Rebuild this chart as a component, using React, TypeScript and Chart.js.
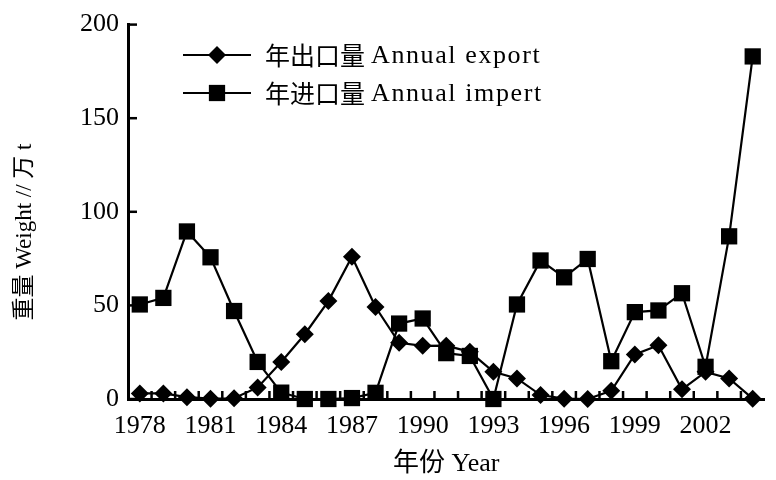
import React, { useEffect, useRef } from "react";
import { Chart, registerables } from "chart.js";

Chart.register(...registerables);

const years = [
  "1978", "1979", "1980", "1981", "1982", "1983", "1984", "1985", "1986",
  "1987", "1988", "1989", "1990", "1991", "1992", "1993", "1994", "1995",
  "1996", "1997", "1998", "1999", "2000", "2001", "2002", "2003", "2004",
];

const exportValues = [
  3, 3, 1, 0.2, 0.4, 6.2, 19.8, 34.6, 52.3,
  76, 49.1, 30, 28.4, 28.5, 25.2, 14.5, 11, 2.1,
  0.2, 0, 4.4, 23.8, 28.7, 5.2, 14.5, 11, 0.2,
];

const importValues = [
  50.5, 54, 89.5, 75.7, 47, 19.8, 3.4, 0, 0,
  0.5, 3.3, 40.3, 43, 24.5, 23, 0, 50.5, 74,
  65, 74.8, 20.2, 46.4, 47.3, 56.5, 17.2, 86.9, 183,
];

const seriesNamesZh = ["年出口量", "年进口量"];
const seriesNamesEn = ["Annual export", "Annual impert"];
const yTicks = [0, 50, 100, 150, 200];
const xTitle = "年份 Year";
const yTitle = "重量 Weight // 万 t";

const FONT = "'Liberation Serif', 'Noto Sans CJK SC', serif";

const decorPlugin = {
  id: "decor",
  afterDraw(chart: any) {
    const ctx = chart.ctx;
    const xs = chart.scales.x;
    const ys = chart.scales.y;
    const area = chart.chartArea;
    ctx.save();
    ctx.strokeStyle = "#000";
    ctx.lineWidth = 2.5;
    // inward x ticks at category boundaries
    const n = years.length;
    for (let i = 1; i < n; i++) {
      const x = (xs.getPixelForValue(i - 1) + xs.getPixelForValue(i)) / 2;
      ctx.beginPath();
      ctx.moveTo(x, area.bottom);
      ctx.lineTo(x, area.bottom - 8);
      ctx.stroke();
    }
    // inward y ticks
    for (const v of yTicks) {
      const y = ys.getPixelForValue(v);
      ctx.beginPath();
      ctx.moveTo(area.left, y);
      ctx.lineTo(area.left + 9, y);
      ctx.stroke();
    }
    // legend
    const rows = [55, 93];
    chart.data.datasets.forEach((ds: any, i: number) => {
      const y = rows[i];
      ctx.strokeStyle = "#000";
      ctx.lineWidth = 2.2;
      ctx.beginPath();
      ctx.moveTo(183, y);
      ctx.lineTo(251, y);
      ctx.stroke();
      ctx.fillStyle = "#000";
      const cx = 217;
      ctx.beginPath();
      if (ds.pointStyle === "rectRot") {
        const r = ds.pointRadius;
        ctx.moveTo(cx - r, y);
        ctx.lineTo(cx, y - r);
        ctx.lineTo(cx + r, y);
        ctx.lineTo(cx, y + r);
        ctx.closePath();
      } else {
        const s = ds.pointRadius * Math.SQRT1_2;
        ctx.rect(cx - s, y - s, 2 * s, 2 * s);
      }
      ctx.fill();
      ctx.textAlign = "left";
      ctx.textBaseline = "middle";
      ctx.font = `25px 'Noto Sans CJK SC', sans-serif`;
      ctx.fillText(seriesNamesZh[i], 265, y);
      ctx.font = `26px 'Liberation Serif', serif`;
      (ctx as any).letterSpacing = "1.6px";
      ctx.fillText(seriesNamesEn[i], 371, y + 1);
      (ctx as any).letterSpacing = "0px";
    });
    // y title
    ctx.translate(25, 232);
    ctx.rotate(-Math.PI / 2);
    ctx.font = `23px ${FONT}`;
    ctx.textAlign = "center";
    ctx.textBaseline = "middle";
    ctx.fillStyle = "#000";
    ctx.fillText(yTitle, 0, 0);
    ctx.restore();
  },
};

export default function App() {
  const ref = useRef<HTMLCanvasElement | null>(null);
  useEffect(() => {
    if (!ref.current) return;
    const chart = new Chart(ref.current, {
      type: "line",
      data: {
        labels: years,
        datasets: [
          {
            label: seriesNamesZh[0] + " " + seriesNamesEn[0],
            data: exportValues,
            borderColor: "#000",
            backgroundColor: "#000",
            borderWidth: 2.2,
            pointStyle: "rectRot",
            pointRadius: 9,
            pointBorderWidth: 0,
            tension: 0,
            clip: false,
          },
          {
            label: seriesNamesZh[1] + " " + seriesNamesEn[1],
            data: importValues,
            borderColor: "#000",
            backgroundColor: "#000",
            borderWidth: 2.2,
            pointStyle: "rect",
            pointRadius: 11.5,
            pointBorderWidth: 0,
            tension: 0,
            clip: false,
          },
        ] as any,
      },
      options: {
        animation: false,
        responsive: false,
        events: [],
        layout: { padding: { left: 0, top: 23, right: 1, bottom: 0 } },
        plugins: { legend: { display: false }, tooltip: { enabled: false } },
        scales: {
          x: {
            type: "category",
            offset: true,
            grid: { display: false, drawTicks: false },
            border: { display: true, color: "#000", width: 3 },
            ticks: {
              autoSkip: false,
              maxRotation: 0,
              padding: 12,
              color: "#000",
              font: { family: FONT, size: 26 },
              callback: (_v: any, i: number) => (i % 3 === 0 ? years[i] : ""),
            },
            title: {
              display: true,
              text: xTitle,
              color: "#000",
              font: { family: FONT, size: 26 },
              padding: { top: 4, bottom: 0 },
            },
            afterFit: (s: any) => {
              s.height = 81;
            },
          },
          y: {
            min: 0,
            max: 200,
            grid: { display: false, drawTicks: false },
            border: { display: true, color: "#000", width: 3 },
            ticks: {
              stepSize: 50,
              padding: 9,
              color: "#000",
              font: { family: FONT, size: 26 },
            },
            afterFit: (s: any) => {
              s.width = 128;
            },
          },
        },
      },
      plugins: [decorPlugin],
    });
    return () => chart.destroy();
  }, []);
  return (
    <div style={{ position: "fixed", left: 0, top: 0, width: 776, height: 480, background: "#fff" }}>
      <canvas ref={ref} width={776} height={480} style={{ display: "block" }} />
    </div>
  );
}
